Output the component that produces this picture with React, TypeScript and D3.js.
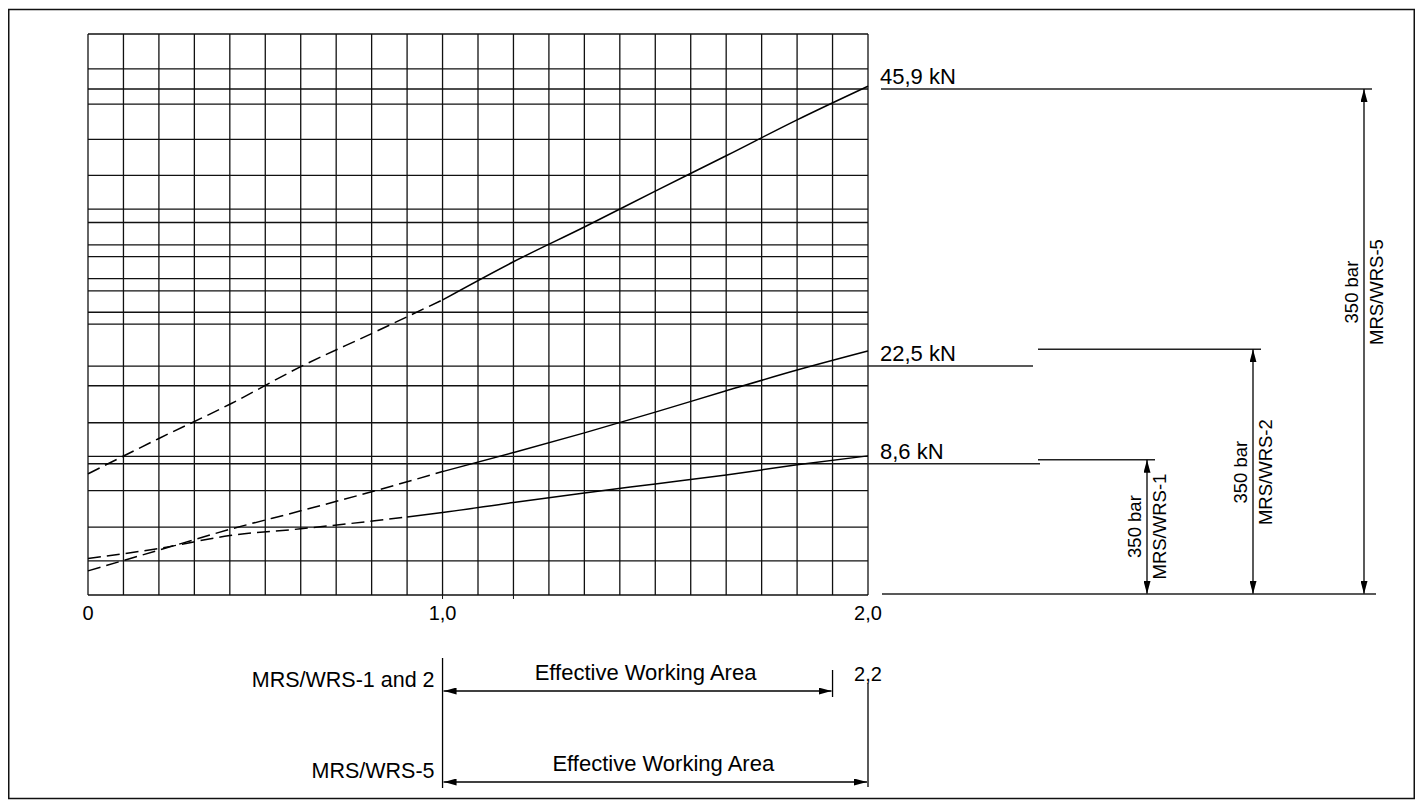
import React, { useEffect, useRef } from 'react';
import * as d3 from 'd3';

const WIDTH = 1407;
const HEIGHT = 792;
const FONT = '"Liberation Sans", Arial, Helvetica, sans-serif';

// x axis, grid step 0.1
const xDomain = [0, 2.2];
const xTickValues = [0, 1.0, 2.2];
const xTickLabels = ['0', '1,0', '2,0'];
const xMarkValues = [1.0, 1.2];

// y: relative height inside the grid (0 = bottom edge, 100 = top edge)
const hGridLevels = [100, 93.8, 90.2, 87.5, 81.2, 74.8, 68.8, 66.4, 62.4, 60.3, 56.4, 54.2,
  50.4, 48.3, 40.8, 37.3, 30.7, 24.7, 23.4, 18.6, 12.1, 6.1, 0];

// force curves
const curve459X = [0, 0.2, 0.4, 0.6, 0.8, 1.0, 1.2, 1.4, 1.6, 1.8, 2.0, 2.2];
const curve459Y = [21.6, 27.9, 34.0, 40.7, 46.6, 52.6, 59.4, 65.6, 72.0, 78.3, 84.7, 90.7];
const curve225X = [0, 0.2, 0.4, 0.6, 0.8, 1.0, 1.2, 1.4, 1.6, 1.8, 2.0, 2.2];
const curve225Y = [4.3, 8.0, 11.7, 15.0, 18.4, 22.0, 25.4, 28.9, 32.6, 36.4, 40.1, 43.5];
const curve86X = [0, 0.2, 0.4, 0.6, 0.9, 1.0, 1.2, 1.4, 1.6, 1.8, 2.0, 2.2];
const curve86Y = [6.5, 8.3, 10.6, 11.8, 13.9, 14.7, 16.5, 18.2, 19.8, 21.4, 23.2, 24.8];
const dashedUntil = [1.0, 1.0, 0.9];

// ratings on the right
const ratingLabels = ['45,9 kN', '22,5 kN', '8,6 kN'];
const ratingModels = ['MRS/WRS-5', 'MRS/WRS-2', 'MRS/WRS-1'];
const ratingPressure = '350 bar';
const ratingGridLevel = [90.2, 40.8, 23.4];
const ratingArrowTop = [90.2, 43.8, 24.1];
const ratingTextLevel = [54.0, 21.9, 12.2];

// effective working area rows
const areaModels = ['MRS/WRS-1 and 2', 'MRS/WRS-5'];
const areaStart = [1.0, 1.0];
const areaEnd = [2.1, 2.2];
const areaText = 'Effective Working Area';
const areaEndLabel = '2,2';

export default function App() {
  const ref = useRef<SVGSVGElement>(null);

  useEffect(() => {
    const svg = d3.select(ref.current);
    svg.selectAll('*').remove();

    const left = 80, right = 860, top = 26, bottom = 587;
    const x = d3.scaleLinear().domain(xDomain).range([left, right]);
    const y = d3.scaleLinear().domain([0, 100]).range([bottom, top]);

    svg.append('defs').append('marker')
      .attr('id', 'arrowhead')
      .attr('viewBox', '0 0 13 7')
      .attr('refX', 13)
      .attr('refY', 3.5)
      .attr('markerWidth', 13)
      .attr('markerHeight', 7)
      .attr('markerUnits', 'userSpaceOnUse')
      .attr('orient', 'auto-start-reverse')
      .append('path')
      .attr('d', 'M0,0L13,3.5L0,7Z')
      .attr('fill', '#000');

    // frame
    svg.append('rect')
      .attr('x', 0.75).attr('y', 1.5)
      .attr('width', WIDTH - 1.5).attr('height', HEIGHT - 3)
      .attr('fill', 'none').attr('stroke', '#111').attr('stroke-width', 1.5);

    const g = svg.append('g');

    // grid
    g.selectAll('.vgrid')
      .data(x.ticks(22))
      .join('line')
      .attr('x1', d => x(d)).attr('x2', d => x(d))
      .attr('y1', y(100)).attr('y2', y(0))
      .attr('stroke', '#111').attr('stroke-width', 1.3);

    g.selectAll('.hgrid')
      .data(hGridLevels)
      .join('line')
      .attr('x1', left).attr('x2', right)
      .attr('y1', d => y(d)).attr('y2', d => y(d))
      .attr('stroke', '#111').attr('stroke-width', 1.3);

    g.selectAll('.xmark')
      .data(xMarkValues)
      .join('line')
      .attr('x1', d => x(d)).attr('x2', d => x(d))
      .attr('y1', y(0)).attr('y2', y(0) + 4)
      .attr('stroke', '#111').attr('stroke-width', 1);

    g.selectAll('.xlabel')
      .data(xTickValues)
      .join('text')
      .attr('x', d => x(d))
      .attr('y', y(0) + 25)
      .attr('text-anchor', 'middle')
      .attr('font-family', FONT)
      .attr('font-size', 20)
      .text((d, i) => xTickLabels[i]);

    // curves
    const line = d3.line<[number, number]>()
      .x(d => x(d[0]))
      .y(d => y(d[1]))
      .curve(d3.curveMonotoneX);

    const curves = [
      d3.zip(curve459X, curve459Y) as [number, number][],
      d3.zip(curve225X, curve225Y) as [number, number][],
      d3.zip(curve86X, curve86Y) as [number, number][]
    ];

    curves.forEach((pts, i) => {
      const split = dashedUntil[i];
      g.append('path')
        .attr('d', line(pts.filter(p => p[0] <= split)))
        .attr('fill', 'none').attr('stroke', '#000').attr('stroke-width', 1.5)
        .attr('stroke-dasharray', '13,6');
      g.append('path')
        .attr('d', line(pts.filter(p => p[0] >= split)))
        .attr('fill', 'none').attr('stroke', '#000').attr('stroke-width', 1.5);
    });

    // ratings on the right
    const arrowX = [1356, 1245, 1139];
    const labelX = right + 12;
    const breakX = [0, 1025, 1032];

    ratingLabels.forEach((label, i) => {
      const yl = y(ratingGridLevel[i]);
      const ya = y(ratingArrowTop[i]);
      g.append('text')
        .attr('x', labelX)
        .attr('y', yl - 5)
        .attr('font-family', FONT)
        .attr('font-size', 22)
        .text(label);

      if (i === 0) {
        g.append('line')
          .attr('x1', right + 13).attr('x2', arrowX[i] + 8)
          .attr('y1', yl).attr('y2', yl)
          .attr('stroke', '#222').attr('stroke-width', 1.6);
      } else {
        g.append('line')
          .attr('x1', right).attr('x2', breakX[i])
          .attr('y1', yl).attr('y2', yl)
          .attr('stroke', '#222').attr('stroke-width', 1.5);
        g.append('line')
          .attr('x1', 1030).attr('x2', arrowX[i] + 8)
          .attr('y1', ya).attr('y2', ya)
          .attr('stroke', '#222').attr('stroke-width', 1.5);
      }

      g.append('line')
        .attr('x1', arrowX[i]).attr('x2', arrowX[i])
        .attr('y1', ya).attr('y2', y(0) - 1)
        .attr('stroke', '#000').attr('stroke-width', 1.3)
        .attr('marker-start', 'url(#arrowhead)')
        .attr('marker-end', 'url(#arrowhead)');

      const yt = y(ratingTextLevel[i]);
      g.append('text')
        .attr('transform', `translate(${arrowX[i] - 12.5},${yt}) rotate(-90)`)
        .attr('dy', '0.35em')
        .attr('text-anchor', 'middle')
        .attr('font-family', FONT)
        .attr('font-size', 18.5)
        .text(ratingPressure);
      g.append('text')
        .attr('transform', `translate(${arrowX[i] + 13},${yt}) rotate(-90)`)
        .attr('dy', '0.35em')
        .attr('text-anchor', 'middle')
        .attr('font-family', FONT)
        .attr('font-size', 18.5)
        .text(ratingModels[i]);
    });

    g.append('line')
      .attr('x1', right + 14).attr('x2', 1368)
      .attr('y1', y(0) - 1).attr('y2', y(0) - 1)
      .attr('stroke', '#222').attr('stroke-width', 1.5);

    // effective working area
    const rowY = [683, 774];
    g.append('line')
      .attr('x1', x(1.0)).attr('x2', x(1.0))
      .attr('y1', 650).attr('y2', 780)
      .attr('stroke', '#000').attr('stroke-width', 1.3);
    g.append('line')
      .attr('x1', x(2.2)).attr('x2', x(2.2))
      .attr('y1', 675).attr('y2', 779)
      .attr('stroke', '#000').attr('stroke-width', 1.3);
    g.append('line')
      .attr('x1', x(2.1)).attr('x2', x(2.1))
      .attr('y1', 662).attr('y2', 689)
      .attr('stroke', '#000').attr('stroke-width', 1.3);
    g.append('text')
      .attr('x', x(2.2))
      .attr('y', 673)
      .attr('text-anchor', 'middle')
      .attr('font-family', FONT)
      .attr('font-size', 20)
      .text(areaEndLabel);

    areaModels.forEach((m, i) => {
      const x0 = x(areaStart[i]);
      const x1 = x(areaEnd[i]);
      g.append('line')
        .attr('x1', x0 + 1).attr('x2', x1 - 1)
        .attr('y1', rowY[i]).attr('y2', rowY[i])
        .attr('stroke', '#000').attr('stroke-width', 1.3)
        .attr('marker-start', 'url(#arrowhead)')
        .attr('marker-end', 'url(#arrowhead)');
      g.append('text')
        .attr('x', (x0 + x1) / 2 + 8)
        .attr('y', rowY[i] - 11)
        .attr('text-anchor', 'middle')
        .attr('font-family', FONT)
        .attr('font-size', 22)
        .text(areaText);
      g.append('text')
        .attr('x', x0 - 8)
        .attr('y', rowY[i] - 4)
        .attr('text-anchor', 'end')
        .attr('font-family', FONT)
        .attr('font-size', 21.5)
        .text(m);
    });
  }, []);

  return <svg ref={ref} width={WIDTH} height={HEIGHT} style={{ display: 'block' }} />;
}
